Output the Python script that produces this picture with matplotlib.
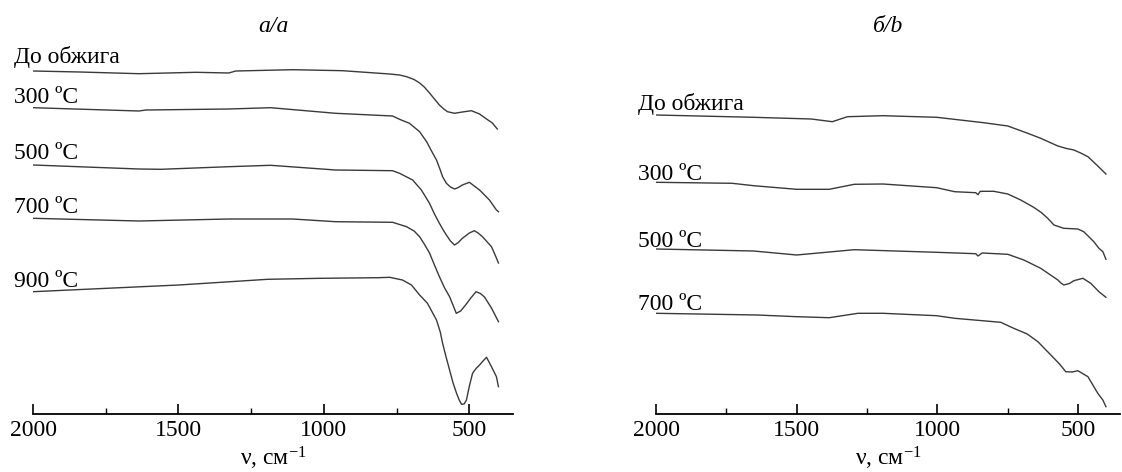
import matplotlib
matplotlib.use("Agg")
import matplotlib.pyplot as plt
from matplotlib.ticker import FixedLocator

plt.rcParams['font.family'] = ['Liberation Serif', 'DejaVu Serif']
plt.rcParams['mathtext.default'] = 'regular'

# ---------------- data (IR transmittance, arbitrary units) ----------------
# Panel а/a
a0_wn = [2000, 1839, 1636, 1440, 1327, 1303, 1107, 936, 774, 740, 716, 690, 671, 655, 637, 620, 603, 588, 575, 551, 524, 493, 465, 441, 421, 404]
a0_T = [343, 342, 340.3, 341.7, 341, 343, 344.3, 343.3, 340, 339, 337.3, 334.5, 331, 327, 321, 315, 309, 305, 302.3, 300.7, 302, 303.3, 300, 295, 291, 285]

a1_wn = [2000, 1636, 1612, 1327, 1183, 960, 764, 740, 706, 671, 647, 630, 613, 600, 592, 579, 565, 551, 538, 524, 500, 465, 431, 407, 400]
a1_T = [306.3, 303, 304, 305, 306.3, 300.7, 298, 294.7, 290.7, 282.3, 272.3, 263, 254, 244, 237.3, 230.7, 227, 225, 226.5, 229, 231.7, 224, 214, 204, 202.3]

a2_wn = [2000, 1636, 1560, 1327, 1183, 960, 764, 740, 695, 665, 637, 620, 603, 590, 579, 565, 551, 538, 524, 500, 483, 470, 455, 424, 407, 400]
a2_T = [249, 245, 244.7, 247.3, 248.7, 244, 243.3, 240.7, 234, 224, 210.7, 200, 190.7, 184, 179, 173, 169, 171.5, 175.7, 181, 183.3, 181, 177.3, 167.3, 156, 151]

a3_wn = [2000, 1636, 1327, 1107, 960, 764, 716, 690, 671, 655, 637, 620, 603, 585, 568, 555, 545, 530, 513, 495, 477, 462, 448, 424, 400]
a3_T = [195.7, 193, 195, 195, 192.3, 191.7, 187.3, 183, 177.3, 170, 161, 149, 137.3, 126, 117.3, 108, 100.7, 103, 109, 116, 122.3, 120.5, 117, 106, 92.3]

a4_wn = [2000, 1746, 1499, 1193, 1011, 812, 774, 730, 699, 671, 644, 613, 600, 592, 580, 568, 556, 544, 535, 527, 518, 510, 500, 489, 477, 465, 453, 441, 424, 407, 400]
a4_T = [122.3, 125.7, 129, 134.7, 135.7, 136.3, 136.7, 134, 129, 119, 110.7, 94, 82, 70.7, 57, 44, 31, 20.7, 14, 9.7, 10, 14, 28, 40.7, 45.5, 49, 53, 56.7, 47.3, 37.3, 27.3]

# Panel б/b
b0_wn = [2000, 1653, 1448, 1373, 1319, 1193, 1002, 835, 749, 678, 632, 571, 540, 514, 490, 464, 429, 400]
b0_T = [299, 296.7, 295, 292.3, 297.3, 298.3, 296.7, 291.3, 288, 280.7, 275.7, 268, 265.5, 264, 261, 257.3, 248, 240]

b1_wn = [2000, 1729, 1653, 1500, 1384, 1295, 1193, 1002, 938, 863, 855, 847, 799, 749, 703, 657, 630, 607, 585, 550, 500, 479, 443, 425, 411, 400]
b1_T = [231.7, 230.7, 228.3, 224.7, 224.7, 229.7, 230, 226.3, 222.3, 221.3, 219.3, 222.7, 222.7, 220, 214, 206.7, 201.5, 195.7, 189, 185.7, 185, 182.3, 172.3, 165.7, 162.3, 154.7]

b2_wn = [2000, 1653, 1500, 1295, 1002, 863, 855, 840, 749, 692, 632, 571, 560, 550, 530, 514, 482, 454, 425, 400]
b2_T = [165, 163, 159, 164.3, 161.7, 160.3, 158, 161, 159.7, 154, 145.7, 134, 131, 129, 130.5, 133.3, 135.7, 130.7, 122.3, 116.7]

b3_wn = [2000, 1640, 1499, 1384, 1282, 1193, 1002, 938, 774, 728, 680, 642, 596, 565, 543, 520, 500, 464, 429, 411, 400]
b3_T = [100.7, 99, 97.3, 96.3, 100.7, 100.7, 98.3, 95.7, 91.7, 85.7, 80, 72.3, 59, 50, 42.3, 42, 43.3, 37.3, 20.7, 14, 7.3]

labels_a = ['До обжига', '300 ºC', '500 ºC', '700 ºC', '900 ºC']
labels_b = ['До обжига', '300 ºC', '500 ºC', '700 ºC']
label_T_a = [351.3, 311, 255, 201.3, 127.3]
label_T_b = [304, 234, 167.3, 104]

major_ticks = [2000, 1500, 1000, 500]
minor_ticks = [1750, 1250, 750]
titles = ['а/a', 'б/b']
xlabel = 'ν, см$^{-1}$'

# ---------------- figure ----------------
W, H = 1122, 472
fig = plt.figure(figsize=(W / 100, H / 100), dpi=100)

ax_a = fig.add_axes([33 / W, 1 - 414 / H, 480 / W, 354 / H])
ax_b = fig.add_axes([656 / W, 1 - 414 / H, 464 / W, 354 / H])

series_a = [(a0_wn, a0_T), (a1_wn, a1_T), (a2_wn, a2_T), (a3_wn, a3_T), (a4_wn, a4_T)]
series_b = [(b0_wn, b0_T), (b1_wn, b1_T), (b2_wn, b2_T), (b3_wn, b3_T)]

line_color = '#3a3a3a'
for ax, series, labels, lab_T, title in [
        (ax_a, series_a, labels_a, label_T_a, titles[0]),
        (ax_b, series_b, labels_b, label_T_b, titles[1])]:
    for (wn, T) in series:
        ax.plot(wn, T, color=line_color, lw=1.0, solid_joinstyle='round')
    ax.set_xlim(2000, 350)
    ax.set_ylim(0, 354)
    for s in ['left', 'right', 'top']:
        ax.spines[s].set_visible(False)
    ax.spines['bottom'].set_linewidth(1.3)
    ax.set_yticks([])
    ax.xaxis.set_major_locator(FixedLocator(major_ticks))
    ax.xaxis.set_minor_locator(FixedLocator(minor_ticks))
    ax.tick_params(axis='x', which='major', direction='in', length=7, width=1.2,
                   labelsize=17, pad=4)
    ax.tick_params(axis='x', which='minor', direction='in', length=4, width=1.0)
    ax.set_xlabel(xlabel, fontsize=17, labelpad=3)
    ax.text(0.5, 1.079, title, transform=ax.transAxes, ha='center', va='baseline',
            fontsize=17, style='italic')
    for lab, t in zip(labels, lab_T):
        ax.text(2064, t, lab, fontsize=17, ha='left', va='baseline', clip_on=False)

fig.savefig('out.png', dpi=100)
